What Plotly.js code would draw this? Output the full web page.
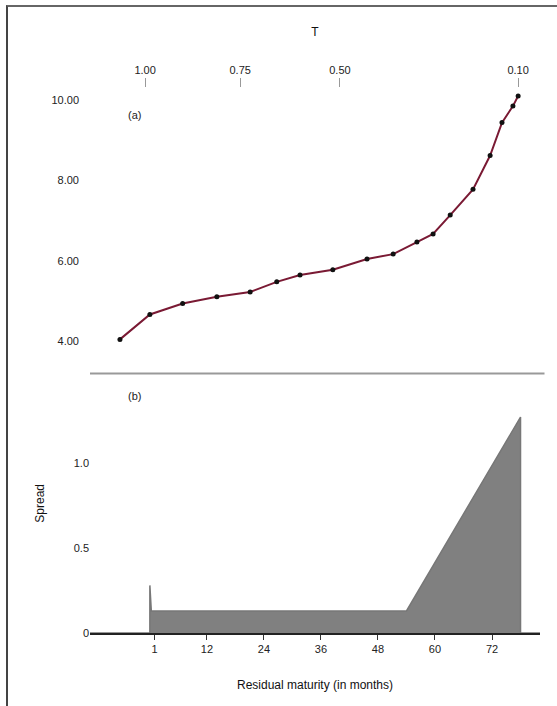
<!DOCTYPE html>
<html>
<head>
<meta charset="utf-8">
<script src="https://cdn.plot.ly/plotly-3.0.1.min.js"></script>
<style>
  html, body { margin: 0; padding: 0; background: #fff; }
  #chart { position: absolute; left: 0; top: 0; width: 557px; height: 706px; }
  #frame { position: absolute; left: 6px; top: 5px; width: 560px; height: 720px;
           border-left: 2px solid #444; border-top: 2px solid #666; pointer-events: none; }
</style>
</head>
<body>
<div id="chart"></div>
<div id="frame"></div>
<script>
// ---- data ----
const curveMonths = [-6.3, 0, 6.9, 14.1, 21.1, 26.7, 31.6, 38.5, 45.7, 51.2, 56.2, 59.6, 63.2, 68.0, 71.6, 74.1, 76.4, 77.5];
const curveValues = [4.05, 4.67, 4.94, 5.11, 5.23, 5.48, 5.65, 5.78, 6.05, 6.17, 6.47, 6.67, 7.14, 7.78, 8.62, 9.44, 9.85, 10.1];

const spreadMonths = [-12.6, 0, 0, 0.3, 54, 78, 78, 82.1];
const spreadValues = [0, 0, 0.28, 0.13, 0.13, 1.27, 0, 0];

const bottomTickVals = [1, 12, 24, 36, 48, 60, 72];
const bottomTickText = ["1", "12", "24", "36", "48", "60", "72"];
const topTickVals = [-1, 19, 40, 77.5];
const topTickText = ["1.00", "0.75", "0.50", "0.10"];
const curveTickVals = [4, 6, 8, 10];
const curveTickText = ["4.00", "6.00", "8.00", "10.00"];
const spreadTickVals = [0, 0.5, 1.0];
const spreadTickText = ["0", "0.5", "1.0"];

const font = { family: "Liberation Sans, Arial, sans-serif", size: 11, color: "#222" };

const traces = [
  {
    x: spreadMonths, y: spreadValues, xaxis: "x", yaxis: "y",
    type: "scatter", mode: "lines", fill: "tozeroy",
    fillcolor: "#808080", line: { color: "#777", width: 1.5 },
    hoverinfo: "skip", showlegend: false
  },
  {
    x: curveMonths, y: curveValues, xaxis: "x2", yaxis: "y2",
    type: "scatter", mode: "lines+markers",
    line: { color: "#7a1a34", width: 2 },
    marker: { color: "#111", size: 5 },
    showlegend: false
  }
];

const layout = {
  width: 557, height: 706,
  margin: { l: 90, r: 17, t: 88, b: 73 },
  paper_bgcolor: "#fff", plot_bgcolor: "#fff",
  font: font,
  showlegend: false,
  xaxis: {
    domain: [0, 1], anchor: "y", range: [-12.6, 82.1],
    tickmode: "array", tickvals: bottomTickVals, ticktext: bottomTickText,
    ticks: "outside", ticklen: 5, tickcolor: "#333",
    showline: true, linecolor: "#222", linewidth: 2,
    showgrid: false, zeroline: false,
    title: { text: "Residual maturity (in months)", font: { size: 12, color: "#111" }, standoff: 26 }
  },
  yaxis: {
    domain: [0, 0.476], anchor: "x", range: [0, 1.526],
    tickmode: "array", tickvals: spreadTickVals, ticktext: spreadTickText,
    ticks: "", showline: false, showgrid: false, zeroline: false,
    title: { text: "Spread", font: { size: 12, color: "#111" }, standoff: 26 }
  },
  xaxis2: {
    domain: [0, 1], anchor: "y2", side: "top", matches: "x", range: [-12.6, 82.1],
    tickmode: "array", tickvals: topTickVals, ticktext: topTickText,
    ticks: "outside", ticklen: 9, tickcolor: "#999",
    showline: false, showgrid: false, zeroline: false,
    title: { text: "T", font: { size: 12, color: "#111" }, standoff: 24 }
  },
  yaxis2: {
    domain: [0.476, 1], anchor: "x2", range: [3.2, 10.3],
    tickmode: "array", tickvals: curveTickVals, ticktext: curveTickText,
    ticks: "", ticklabelstandoff: 10, showline: false, showgrid: false, zeroline: false
  },
  shapes: [
    { type: "line", xref: "paper", yref: "paper", x0: 0, x1: 1.01, y0: 0.476, y1: 0.476,
      line: { color: "#999", width: 2 } }
  ],
  annotations: [
    { text: "(a)", xref: "paper", yref: "paper", x: 0.08, y: 0.965, showarrow: false, font: { size: 11, color: "#222" } },
    { text: "(b)", xref: "paper", yref: "paper", x: 0.08, y: 0.435, showarrow: false, font: { size: 11, color: "#222" } }
  ]
};

Plotly.newPlot("chart", traces, layout, { displayModeBar: false, staticPlot: true });
</script>
</body>
</html>
